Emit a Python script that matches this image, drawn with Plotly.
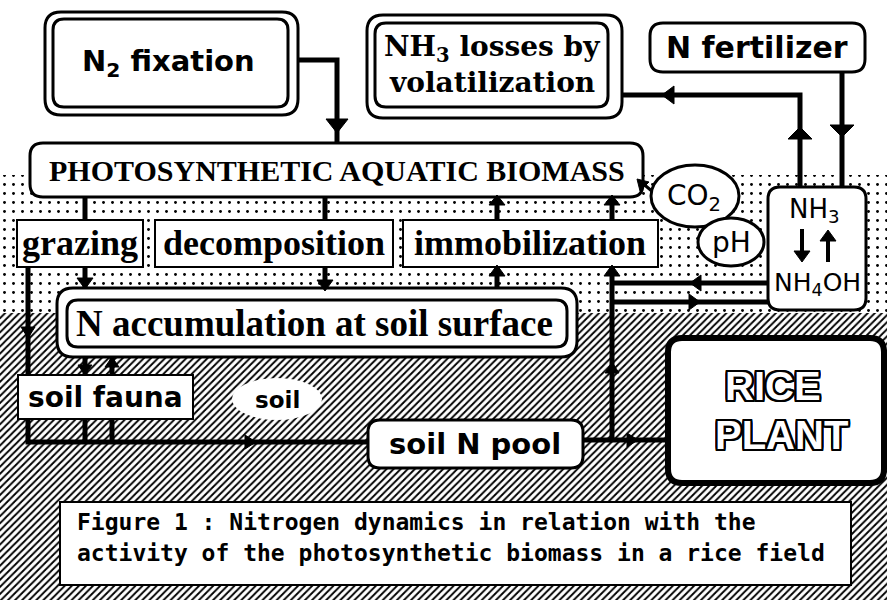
import plotly.graph_objects as go

W, H = 887, 600

# ---- text content of the diagram ----
top_sources = ["N<sub>2</sub> fixation", "NH<sub>3</sub> losses by", "volatilization", "N fertilizer"]
biomass_label = "PHOTOSYNTHETIC AQUATIC BIOMASS"
process_labels = ["grazing", "decomposition", "immobilization"]
accum_label = "N accumulation at soil surface"
soil_labels = ["soil fauna", "soil", "soil N pool"]
gas_labels = ["CO<sub>2</sub>", "pH"]
ammonia_labels = ["NH<sub>3</sub>", "NH<sub>4</sub>OH"]
plant_labels = ["RICE", "PLANT"]
caption_lines = ["Figure 1 : Nitrogen dynamics in relation with the",
                 "activity of the photosynthetic biomass in a rice field"]

# ---- zones (water layer and soil layer), in pixel-like data units ----
water_zone = (175, 313)
soil_zone = (313, 600)

fig = go.Figure()

# stippled water layer
fig.add_trace(go.Scatter(
    x=[0, W, W, 0, 0], y=[water_zone[0], water_zone[0], water_zone[1], water_zone[1], water_zone[0]],
    mode="lines", fill="toself", line=dict(width=0), fillcolor="white",
    fillpattern=dict(shape=".", size=9, solidity=0.08, fgcolor="black", bgcolor="white", fgopacity=1),
    hoverinfo="skip", showlegend=False))
# hatched soil layer
fig.add_trace(go.Scatter(
    x=[0, W, W, 0, 0], y=[soil_zone[0], soil_zone[0], soil_zone[1], soil_zone[1], soil_zone[0]],
    mode="lines", fill="toself", line=dict(width=0), fillcolor="white",
    fillpattern=dict(shape="/", size=5, solidity=0.38, fgcolor="black", bgcolor="white", fgopacity=1),
    hoverinfo="skip", showlegend=False))

shapes = []
BLK = "black"


def rrect(x0, y0, x1, y1, r, lw=3, fill="white"):
    p = (f"M{x0+r},{y0} L{x1-r},{y0} Q{x1},{y0} {x1},{y0+r} L{x1},{y1-r} Q{x1},{y1} {x1-r},{y1} "
         f"L{x0+r},{y1} Q{x0},{y1} {x0},{y1-r} L{x0},{y0+r} Q{x0},{y0} {x0+r},{y0} Z")
    return dict(type="path", path=p, line=dict(color=BLK, width=lw), fillcolor=fill, layer="above")


def rect(x0, y0, x1, y1, lw=2, fill="white"):
    return dict(type="rect", x0=x0, y0=y0, x1=x1, y1=y1, line=dict(color=BLK, width=lw),
                fillcolor=fill, layer="above")


def poly(pts, lw=5):
    p = "M" + " L".join(f"{x},{y}" for x, y in pts)
    return dict(type="path", path=p, line=dict(color=BLK, width=lw), layer="above")


def head(x, y, d, L=12, w=9):
    if d == "down":
        pts = [(x, y), (x - w, y - L), (x + w, y - L)]
    elif d == "up":
        pts = [(x, y), (x - w, y + L), (x + w, y + L)]
    elif d == "left":
        pts = [(x, y), (x + L, y - w), (x + L, y + w)]
    else:
        pts = [(x, y), (x - L, y - w), (x - L, y + w)]
    p = "M" + " L".join(f"{a},{b}" for a, b in pts) + " Z"
    return dict(type="path", path=p, line=dict(color=BLK, width=1), fillcolor=BLK, layer="above")


def ellipse(cx, cy, rx, ry, lw=3, border=True):
    return dict(type="circle", x0=cx - rx, x1=cx + rx, y0=cy - ry, y1=cy + ry,
                line=dict(color=BLK, width=lw if border else 0), fillcolor="white", layer="above")


# ---- connectors (drawn under boxes) ----
shapes += [
    poly([(298, 60), (337, 60), (337, 145)]),                 # N2 fixation -> biomass
    poly([(842, 72), (842, 188)]),                            # fertilizer -> NH3
    poly([(800, 188), (800, 95), (621, 95)]),                 # NH3 -> volatilization
    poly([(85, 196), (85, 221)]), poly([(325, 196), (325, 221)]),
    poly([(497, 196), (497, 221)]), poly([(612, 196), (612, 221)]),
    poly([(85, 266), (85, 290)]), poly([(325, 266), (325, 290)]),
    poly([(497, 290), (497, 266)]),
    poly([(612, 266), (612, 440), (668, 440)]),               # soil N pool -> plant / immobilization
    poly([(612, 283), (769, 283)]), poly([(612, 302), (769, 302)]),
    poly([(28, 266), (28, 442), (370, 442)]),                 # grazing -> soil N pool
    poly([(85, 356), (85, 376)]), poly([(112, 356), (112, 376)]),
    poly([(85, 418), (85, 442)]), poly([(112, 418), (112, 442)]),
    poly([(582, 440), (612, 440)]),
    poly([(653, 192), (641, 182)], lw=3),                     # CO2 -> biomass
]

# ---- boxes ----
shapes += [
    rrect(45, 12, 298, 115, 16), rrect(53, 19, 288, 107, 11),            # N2 fixation
    rrect(367, 15, 622, 118, 16), rrect(375, 23, 608, 107, 11),          # NH3 losses
    rrect(650, 23, 865, 72, 13),                                         # N fertilizer
    rrect(30, 143, 643, 197, 13),                                        # biomass
    rect(17, 220, 143, 267), rect(155, 220, 393, 267), rect(403, 220, 658, 267),
    rrect(57, 288, 577, 357, 16), rrect(67, 300, 567, 347, 11),          # N accumulation
    rect(18, 375, 193, 419),                                             # soil fauna
    ellipse(277, 399, 45, 21, border=False),                             # soil
    rrect(368, 420, 583, 468, 12),                                       # soil N pool
    rrect(668, 338, 884, 483, 14, lw=6),                                 # rice plant
    ellipse(695, 196, 44, 31), ellipse(731, 242, 33, 24),                # CO2, pH
    rrect(768, 187, 866, 310, 12),                                       # NH3 / NH4OH
    rect(60, 502, 851, 585, lw=2),                                       # caption
]

# ---- arrowheads ----
shapes += [
    head(337, 133, "down", 14, 11),
    head(842, 137, "down", 12, 12),
    head(800, 127, "up", 12, 12),
    head(662, 95, "left", 12, 9),
    head(497, 195, "up", 10, 8), head(612, 195, "up", 10, 8),
    head(85, 289, "down", 11, 8), head(325, 291, "down", 11, 8),
    head(497, 265, "up", 11, 8), head(612, 265, "up", 11, 8),
    head(612, 362, "up", 11, 7),
    head(690, 283, "left", 11, 8), head(700, 302, "right", 11, 8),
    head(28, 338, "down", 11, 7),
    head(256, 442, "right", 11, 7),
    head(85, 375, "down", 10, 7), head(112, 357, "up", 10, 7),
    head(638, 440, "right", 11, 7),
]
# small diagonal head from CO2 to biomass corner
shapes.append(dict(type="path", path="M637,179 L649,182 L640,191 Z",
                   line=dict(color=BLK, width=1), fillcolor=BLK, layer="above"))
# NH3 <-> NH4OH inner arrows
shapes += [poly([(802, 229), (802, 252)], lw=4), head(802, 262, "down", 11, 8),
           poly([(828, 262), (828, 240)], lw=4), head(828, 230, "up", 11, 8)]

ann = []


def txt(x, y, s, size, family="DejaVu Sans", weight="bold", anchor="center", color="black", shadow=None):
    f = dict(family=family, size=size, color=color, weight=weight)
    if shadow:
        f["shadow"] = shadow
    ann.append(dict(x=x, y=y, xref="x", yref="y", text=s, showarrow=False,
                    xanchor=anchor, yanchor="middle", font=f))


SERIF = "Liberation Serif"
txt(168, 63, top_sources[0], 29)
txt(492, 48, top_sources[1], 28, "DejaVu Serif")
txt(492, 82, top_sources[2], 28, "DejaVu Serif")
txt(757, 47, top_sources[3], 30)
txt(337, 170, biomass_label, 30, SERIF)
txt(80, 243, process_labels[0], 36, SERIF)
txt(274, 243, process_labels[1], 36, SERIF)
txt(530, 243, process_labels[2], 36, SERIF)
txt(314, 323, accum_label, 37, SERIF)
txt(105, 397, soil_labels[0], 28)
txt(277, 400, soil_labels[1], 23)
txt(475, 444, soil_labels[2], 29)
txt(694, 197, gas_labels[0], 28, weight="normal")
txt(731, 242, gas_labels[1], 28, weight="normal")
txt(814, 210, ammonia_labels[0], 26, weight="normal")
txt(817, 284, ammonia_labels[1], 25, weight="normal")
outline = ", ".join(f"{a}px {b}px 0 #000" for a in (-2, -1, 0, 1, 2) for b in (-2, -1, 0, 1, 2) if (a, b) != (0, 0))
txt(773, 386, plant_labels[0], 40, "Liberation Sans", color="white", shadow=outline)
txt(781, 435, plant_labels[1], 40, "Liberation Sans", color="white", shadow=outline)
txt(75, 522, caption_lines[0], 23, "DejaVu Sans Mono", anchor="left")
txt(75, 553, caption_lines[1], 23, "DejaVu Sans Mono", anchor="left")

fig.update_layout(
    width=W, height=H, margin=dict(l=0, r=0, t=0, b=0),
    paper_bgcolor="white", plot_bgcolor="white", showlegend=False,
    xaxis=dict(range=[0, W], visible=False, fixedrange=True),
    yaxis=dict(range=[H, 0], visible=False, fixedrange=True),
    shapes=shapes, annotations=ann,
)
fig.write_html("out.html", config=dict(displayModeBar=False),
               post_script="document.body.style.margin='0';document.body.style.padding='0';")
